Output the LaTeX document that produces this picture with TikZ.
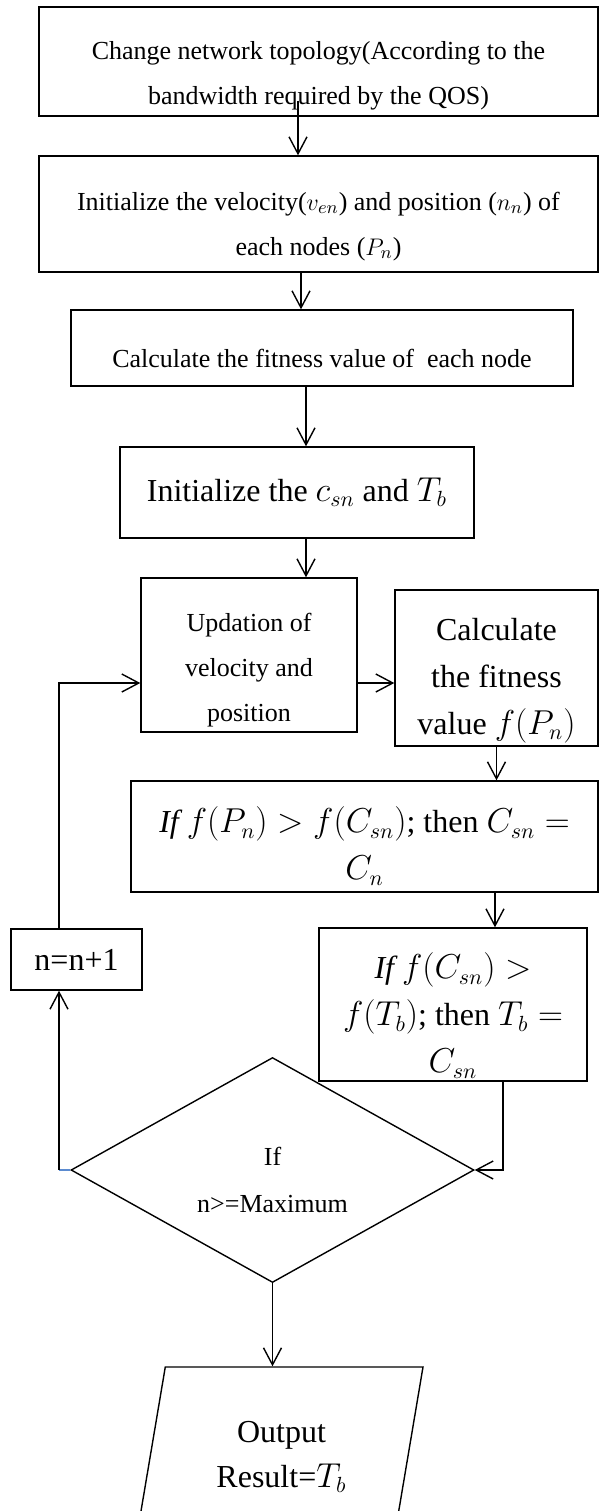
\documentclass[tikz,border=0pt]{standalone}
\usepackage{fontspec}
\setmainfont{Liberation Serif}
\usepackage{xcolor}
\usetikzlibrary{shapes.geometric,arrows.meta,positioning,calc}

\definecolor{wordblue}{HTML}{5B8BD0}
% raises the first line, so the text sits low in its box
\newcommand{\toppad}[1]{\rule{0pt}{#1}}

\begin{document}
\begin{tikzpicture}[x=0.5pt, y=-0.5pt,
  box/.style={rectangle, draw=black, line width=0.7pt, align=center,
              inner xsep=2pt, inner ysep=0pt, font=\fontsize{13}{22.5}\selectfont},
  bigbox/.style={box, font=\fontsize{16}{23.5}\selectfont},
  decision/.style={diamond, draw=black, line width=0.7pt, align=center, aspect=1.8,
              inner sep=1pt, minimum width=201.5pt, minimum height=112.5pt,
              font=\fontsize{13}{23.5}\selectfont},
  outbox/.style={trapezium, trapezium left angle=76, trapezium right angle=104,
              trapezium stretches body, draw=black, line width=0.7pt, align=center,
              inner xsep=2pt, inner ysep=0pt,
              minimum width=141.5pt, minimum height=75pt,
              font=\fontsize{16}{22.5}\selectfont},
  arr/.style={-{Straight Barb[length=8.5pt, width=9pt]}, line width=0.7pt}
]
  \useasboundingbox (0,0) rectangle (599,1511);
  \clip (0,0) rectangle (599,1511);

  % main column
  \node[box, minimum width=279.5pt, minimum height=54.5pt] (b1) at (318.5,61.5)
    {\toppad{1.8em}Change network topology(According to the\\ bandwidth required by the QOS)};
  \node[box, minimum width=279.5pt, minimum height=58pt] (b2) at (318.5,214)
    {\toppad{1.65em}Initialize the velocity($v_{en}$) and position ($n_n$) of\\ each nodes ($P_n$)};
  \node[box, minimum width=251pt, minimum height=38pt] (b3) at (322,348)
    {\toppad{1.5em}Calculate the fitness value of\ \ each node};
  \node[bigbox, minimum width=177pt, minimum height=45.5pt] (b4) at (297,492.5)
    {Initialize the $c_{sn}$ and $T_b$};
  \node[box, minimum width=108pt, minimum height=77pt] (b5) at (249,655)
    {\toppad{1.85em}Updation of\\ velocity and\\ position};
  \node[bigbox, minimum width=101.5pt, minimum height=78pt] (b6) at (496.5,668)
    {\toppad{1.5em}Calculate\\ the fitness\\ value $f(P_n)$};
  \node[bigbox, minimum width=233.5pt, minimum height=55.5pt] (b7) at (364.5,836.5)
    {\toppad{1.4em}$\mathit{If}\ f(P_n) > f(C_{sn})$; then $C_{sn} =$\\ $C_n$};
  \node[bigbox, minimum width=134pt, minimum height=76.5pt] (b8) at (453,1004.5)
    {\toppad{1.5em}$\mathit{If}\ f(C_{sn}) >$\\ $f(T_b)$; then $T_b =$\\ $C_{sn}$};
  \node[bigbox, minimum width=65.5pt, minimum height=30.5pt] (nb) at (76.5,959.5) {n=n+1};
  \node[decision] (dec) at (272.5,1170) {\toppad{1.45em}If\\ n>=Maximum};
  \node[outbox] (out) at (281.5,1442) {\toppad{1.6em}Output\\ Result=$T_b$};

  % connectors
  \draw[arr] ([xshift=-10.25pt,yshift=8pt]b1.south) -- ([xshift=-10.25pt]b1.south |- b2.north);
  \draw[arr] ([xshift=-8.75pt]b2.south) -- ([xshift=-8.75pt]b2.south |- b3.north);
  \draw[arr] ([xshift=-8pt]b3.south) -- ([xshift=-8pt]b3.south |- b4.north);
  \draw[arr] ([xshift=4.5pt]b4.south) -- ([xshift=4.5pt]b4.south |- b5.north);
  \draw[arr] ([yshift=-14pt]b5.east) -- ([yshift=-14pt]b5.east -| b6.west);
  \draw[arr] (b6.south) -- (b6.south |- b7.north);
  \draw[arr] ([xshift=65.25pt]b7.south) -- ([xshift=65.25pt]b7.south |- b8.north);
  \draw[arr] ([xshift=25pt]b8.south) |- (dec.east);

  % loop back
  \coordinate (lp) at ([xshift=-8.75pt]nb.south |- dec.west);
  \draw[wordblue, line width=0.7pt] (dec.west) -- (lp);
  \draw[arr] (lp) -- ([xshift=-8.75pt]nb.south);
  \draw[arr] ([xshift=-8.75pt]nb.north) |- ([yshift=-14pt]b5.west);

  \draw[arr] (dec.south) -- (dec.south |- out.north);
\end{tikzpicture}
\end{document}
